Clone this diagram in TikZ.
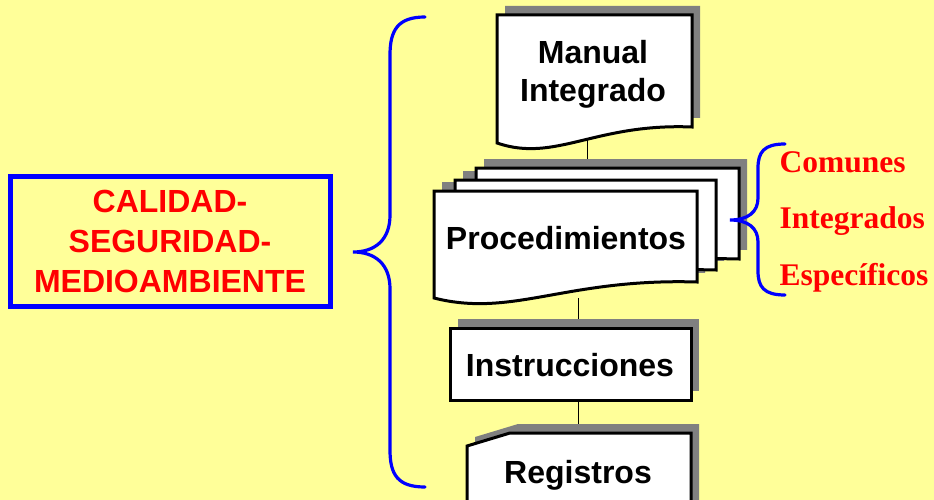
\documentclass[tikz,border=0pt]{standalone}
\usepackage{fontspec}
\setmainfont{Liberation Serif}
\setsansfont{Liberation Sans}
\definecolor{fondo}{HTML}{FFFF99}
\definecolor{gris}{HTML}{808080}
% page with a wavy foot: left, top, right, bottom (right side)
\newcommand{\hoja}[4]{(#1,#2) -- (#3,#2) -- (#3,#4)
  .. controls ({#3-0.5*(#3-#1)},{#4-4}) and ({#1+0.3*(#3-#1)},{#4+36}) .. (#1,{#4+16}) -- cycle}
\begin{document}
\begin{tikzpicture}[x=1pt,y=-1pt,line join=miter,
    sombra/.style={fill=gris,shift={(8,-9)}},
    caja/.style={draw,fill=white,line width=3pt},
    titulo/.style={font=\sffamily\bfseries\fontsize{32}{38}\selectfont,align=center},
    tipo/.style={font=\rmfamily\bfseries\fontsize{31.5}{34}\selectfont,text=red,anchor=west},
    llave/.style={draw=blue,line width=3.2pt,line cap=round}]
  \clip (0,0) rectangle (934,500);
  \fill[fondo] (0,0) rectangle (934,500);
  % connectors
  \coordinate (man-pie) at (587,140);
  \coordinate (proc-tope) at (587,172);
  \coordinate (proc-pie) at (578,298);
  \coordinate (inst-tope) at (578,330);
  \coordinate (inst-pie) at (578,398);
  \coordinate (reg-tope) at (578,436);
  \draw (man-pie) -- (proc-tope);
  \draw (proc-pie) -- (inst-tope);
  \draw (inst-pie) -- (reg-tope);
  % manual
  \fill[sombra] \hoja{497}{15}{692}{127};
  \draw[caja] \hoja{497}{15}{692}{127};
  \node[titulo] (man) at (593,74) {Manual\\Integrado};
  % procedures
  \fill[sombra] \hoja{476}{168}{739}{259};
  \fill[sombra] \hoja{455}{180}{716}{270};
  \fill[sombra] \hoja{434}{191}{697}{282};
  \draw[caja] \hoja{476}{168}{739}{259};
  \draw[caja] \hoja{455}{180}{716}{270};
  \draw[caja] \hoja{434}{191}{697}{282};
  \node[titulo] (proc) at (566,238) {Procedimientos};
  % instructions
  \fill[sombra] (450,328) rectangle (691,400);
  \draw[caja] (450,328) rectangle (691,400);
  \node[titulo] (inst) at (570,365) {Instrucciones};
  % records
  \fill[sombra] (467,446) -- (510,433) -- (691,433) -- (691,520) -- (467,520) -- cycle;
  \draw[caja] (467,446) -- (510,433) -- (691,433) -- (691,520) -- (467,520) -- cycle;
  \node[titulo] (reg) at (578,475) {Registros};
  % system
  \node[draw=blue,line width=5pt,minimum width=320pt,minimum height=130pt,text=red,
    font=\sffamily\bfseries\fontsize{32}{40}\selectfont,align=center] (sis) at (170,241)
    {CALIDAD-\\SEGURIDAD-\\MEDIOAMBIENTE};
  % braces
  \draw[llave] (425,17) .. controls (398,17) and (390,30) .. (390,55) -- (390,215)
    .. controls (390,240) and (375,252) .. (353,252)
    .. controls (375,252) and (390,264) .. (390,289) -- (390,450)
    .. controls (390,475) and (398,487) .. (425,487);
  \draw[llave] (785,144) .. controls (764,144) and (758,152) .. (758,168) -- (758,198)
    .. controls (758,212) and (748,220) .. (730,220)
    .. controls (748,220) and (758,228) .. (758,242) -- (758,271)
    .. controls (758,287) and (764,295) .. (785,295);
  \node[tipo] (com) at (776,162) {Comunes};
  \node[tipo] (integ) at (776,221) {Integrados};
  \node[tipo] (esp) at (776,278) {Específicos};
\end{tikzpicture}
\end{document}
